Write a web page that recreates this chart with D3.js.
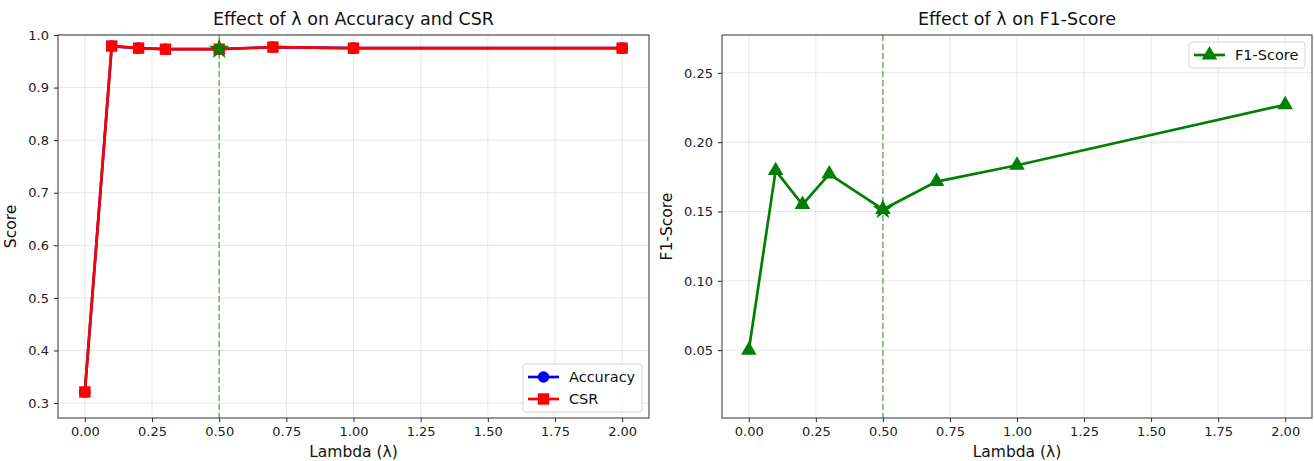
<!DOCTYPE html>
<html>
<head>
<meta charset="utf-8">
<script src="https://cdn.jsdelivr.net/npm/d3@7"></script>
<style>
  body { margin: 0; background: #fff; }
  svg { font-family: "DejaVu Sans", sans-serif; }
  .tick text { fill: #222; }
</style>
</head>
<body>
<svg id="chart" width="1314" height="461"></svg>
<script>
// lambda values tested
const lambdas = [0, 0.1, 0.2, 0.3, 0.5, 0.7, 1.0, 2.0];
const accuracy = [0.321, 0.979, 0.975, 0.973, 0.973, 0.977, 0.975, 0.975];
const csr = [0.321, 0.979, 0.975, 0.973, 0.973, 0.977, 0.975, 0.975];
const f1 = [0.050, 0.1795, 0.155, 0.177, 0.1515, 0.1716, 0.1834, 0.227];
const bestLambda = 0.5;

const xTicks = [0, 0.25, 0.5, 0.75, 1.0, 1.25, 1.5, 1.75, 2.0];
const scoreTicks = [0.3, 0.4, 0.5, 0.6, 0.7, 0.8, 0.9, 1.0];
const f1Ticks = [0.05, 0.10, 0.15, 0.20, 0.25];

const svg = d3.select('#chart');

function drawPanel(cfg) {
    const g = svg.append('g')
        .attr('transform', `translate(${cfg.left}, ${cfg.top})`);

    const x = d3.scaleLinear().domain([-0.1, 2.1]).range([0, cfg.width]);
    const y = d3.scaleLinear().domain(cfg.yDomain).range([cfg.height, 0]);

    // grid
    g.append('g').selectAll('line').data(xTicks).join('line')
        .attr('x1', d => x(d)).attr('x2', d => x(d))
        .attr('y1', 0).attr('y2', cfg.height)
        .attr('stroke', '#b0b0b0').attr('stroke-opacity', 0.3);
    g.append('g').selectAll('line').data(cfg.yTicks).join('line')
        .attr('y1', d => y(d)).attr('y2', d => y(d))
        .attr('x1', 0).attr('x2', cfg.width)
        .attr('stroke', '#b0b0b0').attr('stroke-opacity', 0.3);

    // axes
    const xAxis = g.append('g')
        .attr('transform', `translate(0, ${cfg.height})`)
        .call(d3.axisBottom(x).tickValues(xTicks).tickFormat(d3.format('.2f')).tickSize(4).tickPadding(5));
    const yAxis = g.append('g')
        .call(d3.axisLeft(y).tickValues(cfg.yTicks).tickFormat(d3.format(cfg.yFormat)).tickSize(4).tickPadding(5));
    [xAxis, yAxis].forEach(a => {
        a.select('.domain').remove();
        a.selectAll('text').attr('font-size', 13).attr('font-family', 'DejaVu Sans');
        a.selectAll('line').attr('stroke', '#222');
    });

    // best lambda marker line
    g.append('line')
        .attr('x1', x(bestLambda)).attr('x2', x(bestLambda))
        .attr('y1', 0).attr('y2', cfg.height)
        .attr('stroke', 'green').attr('stroke-opacity', 0.5)
        .attr('stroke-width', 1.6).attr('stroke-dasharray', '6,3');

    const line = d3.line().x(d => x(d[0])).y(d => y(d[1]));

    cfg.series.forEach(s => {
        const pts = lambdas.map((l, i) => [l, s.values[i]]);
        g.append('path')
            .datum(pts)
            .attr('d', line)
            .attr('fill', 'none')
            .attr('stroke', s.color)
            .attr('stroke-width', 2.7)
            .attr('stroke-linejoin', 'round');
        g.append('g').selectAll('path').data(pts).join('path')
            .attr('transform', d => `translate(${x(d[0])}, ${y(d[1])})`)
            .attr('d', d3.symbol(s.symbol, s.size)())
            .attr('fill', s.color);
    });

    // star at best lambda
    const bi = lambdas.indexOf(bestLambda);
    g.append('path')
        .attr('transform', `translate(${x(bestLambda)}, ${y(cfg.series[0].values[bi])})`)
        .attr('d', d3.symbol(d3.symbolStar, 130)())
        .attr('fill', 'green');

    // frame
    g.append('rect')
        .attr('width', cfg.width).attr('height', cfg.height)
        .attr('fill', 'none').attr('stroke', '#333').attr('stroke-width', 1);

    // title + labels
    g.append('text')
        .attr('x', cfg.width / 2).attr('y', -10)
        .attr('text-anchor', 'middle')
        .attr('font-size', 17.5).attr('fill', '#111')
        .text(cfg.title);
    g.append('text')
        .attr('x', cfg.width / 2).attr('y', cfg.height + 39)
        .attr('text-anchor', 'middle')
        .attr('font-size', 15.5).attr('fill', '#111')
        .text('Lambda (λ)');
    g.append('text')
        .attr('transform', `translate(${cfg.yLabelX}, ${cfg.height / 2}) rotate(-90)`)
        .attr('text-anchor', 'middle')
        .attr('font-size', 15.5).attr('fill', '#111')
        .text(cfg.yLabel);

    // legend
    const lg = g.append('g')
        .attr('transform', `translate(${cfg.legend.x}, ${cfg.legend.y})`);
    const rowH = 22;
    lg.append('rect')
        .attr('width', cfg.legend.w)
        .attr('height', cfg.series.length * rowH + 4)
        .attr('rx', 3)
        .attr('fill', '#fff').attr('fill-opacity', 0.8)
        .attr('stroke', '#d6d6d6');
    const rows = lg.selectAll('.legend-row').data(cfg.series).join('g')
        .attr('class', 'legend-row')
        .attr('transform', (d, i) => `translate(0, ${13 + i * rowH})`);
    rows.append('line')
        .attr('x1', 5).attr('x2', 36)
        .attr('stroke', d => d.color).attr('stroke-width', 2.7);
    rows.append('path')
        .attr('transform', 'translate(20.5, 0)')
        .attr('d', d => d3.symbol(d.symbol, d.size)())
        .attr('fill', d => d.color);
    rows.append('text')
        .attr('x', 46).attr('dy', '0.35em')
        .attr('font-size', 14.5).attr('fill', '#111')
        .text(d => d.name);
}

drawPanel({
    left: 58, top: 35, width: 591, height: 383,
    yDomain: [0.2715, 1.0],
    yTicks: scoreTicks, yFormat: '.1f',
    yLabel: 'Score', yLabelX: -42,
    title: 'Effect of λ on Accuracy and CSR',
    series: [
        { name: 'Accuracy', values: accuracy, color: 'blue', symbol: d3.symbolCircle, size: 105 },
        { name: 'CSR', values: csr, color: 'red', symbol: d3.symbolSquare, size: 130 }
    ],
    legend: { x: 465, y: 329, w: 119 }
});

drawPanel({
    left: 722, top: 35, width: 590, height: 383,
    yDomain: [0.0011, 0.2773],
    yTicks: f1Ticks, yFormat: '.2f',
    yLabel: 'F1-Score', yLabelX: -50,
    title: 'Effect of λ on F1-Score',
    series: [
        { name: 'F1-Score', values: f1, color: 'green', symbol: d3.symbolTriangle, size: 105 }
    ],
    legend: { x: 467, y: 7, w: 116 }
});
</script>
</body>
</html>
